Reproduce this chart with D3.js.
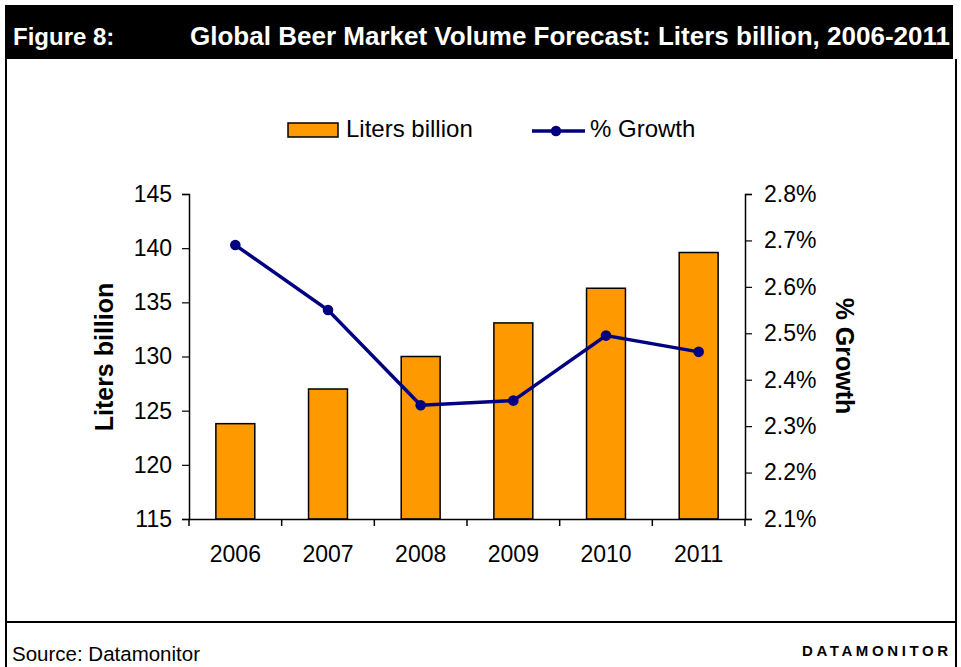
<!DOCTYPE html>
<html><head><meta charset="utf-8">
<script src="https://cdn.jsdelivr.net/npm/d3@7"></script>
<style>body{margin:0;background:#fff}svg{display:block}text{font-family:Arial,"Liberation Sans",sans-serif}</style>
</head><body><svg id="c" width="961" height="667"></svg>
<script>
const years = ["2006","2007","2008","2009","2010","2011"];
const liters = [123.8, 127.0, 130.0, 133.1, 136.3, 139.6];
const growth = [2.69, 2.55, 2.345, 2.355, 2.495, 2.46];
const leftTicks = [115,120,125,130,135,140,145];
const rightTicks = [2.1,2.2,2.3,2.4,2.5,2.6,2.7,2.8];

const svg = d3.select("#c");
// frame
svg.append("rect").attr("x",5).attr("y",5).attr("width",948).attr("height",54).attr("fill","#000");
svg.append("line").attr("x1",6).attr("x2",6).attr("y1",59).attr("y2",667).attr("stroke","#000").attr("stroke-width",2);
svg.append("line").attr("x1",956).attr("x2",956).attr("y1",59).attr("y2",667).attr("stroke","#000").attr("stroke-width",2);
svg.append("line").attr("x1",6).attr("x2",956).attr("y1",622).attr("y2",622).attr("stroke","#000").attr("stroke-width",2);
svg.append("text").attr("x",13).attr("y",45).attr("fill","#fff").attr("font-size",24).attr("font-weight","bold").text("Figure 8:");
svg.append("text").attr("x",190).attr("y",45).attr("fill","#fff").attr("font-size",25).attr("font-weight","bold")
  .attr("textLength",760).attr("lengthAdjust","spacingAndGlyphs").text("Global Beer Market Volume Forecast: Liters billion, 2006-2011");
svg.append("text").attr("x",12).attr("y",661).attr("font-size",20.5).text("Source: Datamonitor");
svg.append("text").attr("x",951.6).attr("y",656).attr("font-size",15).attr("font-weight","bold").attr("text-anchor","end").attr("letter-spacing","3.6").text("DATAMONITOR");

const L=189, R=745, T=194, B=519;
const x = d3.scaleBand().domain(years).range([L,R]).paddingInner(0).paddingOuter(0);
const yL = d3.scaleLinear().domain([115,145]).range([B,T]);
const yR = d3.scaleLinear().domain([2.1,2.8]).range([B,T]);

const bw = x.bandwidth()*0.42;
svg.append("g").selectAll("rect").data(years).join("rect")
  .attr("x",(d)=>x(d)+x.bandwidth()/2-bw/2).attr("width",bw)
  .attr("y",(d,i)=>yL(liters[i])).attr("height",(d,i)=>B-yL(liters[i]))
  .attr("fill","#FF9900").attr("stroke","#000").attr("stroke-width",1.5);

// left axis
const gl = svg.append("g").attr("transform",`translate(${L},0)`)
  .call(d3.axisLeft(yL).tickValues(leftTicks).tickSize(7).tickPadding(10).tickFormat(d3.format("d")));
gl.selectAll("text").attr("font-size",23).attr("fill","#000");
// right axis
const gr = svg.append("g").attr("transform",`translate(${R},0)`)
  .call(d3.axisRight(yR).tickValues(rightTicks).tickSize(7).tickPadding(12).tickFormat(d=>d.toFixed(1)+"%"));
gr.selectAll("text").attr("font-size",23).attr("fill","#000");
// bottom axis
const gb = svg.append("g").attr("transform",`translate(0,${B})`)
  .call(d3.axisBottom(x).tickSize(0).tickPadding(27));
gb.selectAll("text").attr("font-size",23).attr("fill","#000");
const bounds = years.map(d=>x(d)).concat([R]);
svg.append("g").selectAll("line").data(bounds).join("line")
  .attr("x1",d=>d).attr("x2",d=>d).attr("y1",B).attr("y2",B+7).attr("stroke","#000").attr("stroke-width",1.5);
svg.selectAll(".domain").attr("stroke","#000").attr("stroke-width",1.5);
svg.selectAll(".tick line").attr("stroke","#000").attr("stroke-width",1.2);

// line
const cx = d=>x(d)+x.bandwidth()/2;
svg.append("path").datum(years).attr("fill","none").attr("stroke","#000080").attr("stroke-width",3.5)
  .attr("d",d3.line().x(cx).y((d,i)=>yR(growth[i])));
svg.append("g").selectAll("circle").data(years).join("circle")
  .attr("cx",cx).attr("cy",(d,i)=>yR(growth[i])).attr("r",5.3).attr("fill","#000080");

// axis titles
svg.append("text").attr("transform",`translate(113,357) rotate(-90)`).attr("text-anchor","middle")
  .attr("font-size",25).attr("font-weight","bold").text("Liters billion");
svg.append("text").attr("transform",`translate(836,356) rotate(90)`).attr("text-anchor","middle")
  .attr("font-size",25).attr("font-weight","bold").text("% Growth");

// legend
svg.append("rect").attr("x",288).attr("y",123).attr("width",50).attr("height",14).attr("fill","#FF9900").attr("stroke","#000").attr("stroke-width",1.5);
svg.append("text").attr("x",346).attr("y",137).attr("font-size",24).text("Liters billion");
svg.append("line").attr("x1",532).attr("x2",585).attr("y1",131).attr("y2",131).attr("stroke","#000080").attr("stroke-width",3.5);
svg.append("circle").attr("cx",556).attr("cy",131).attr("r",5.3).attr("fill","#000080");
svg.append("text").attr("x",590).attr("y",137).attr("font-size",24).text("% Growth");
</script></body></html>
